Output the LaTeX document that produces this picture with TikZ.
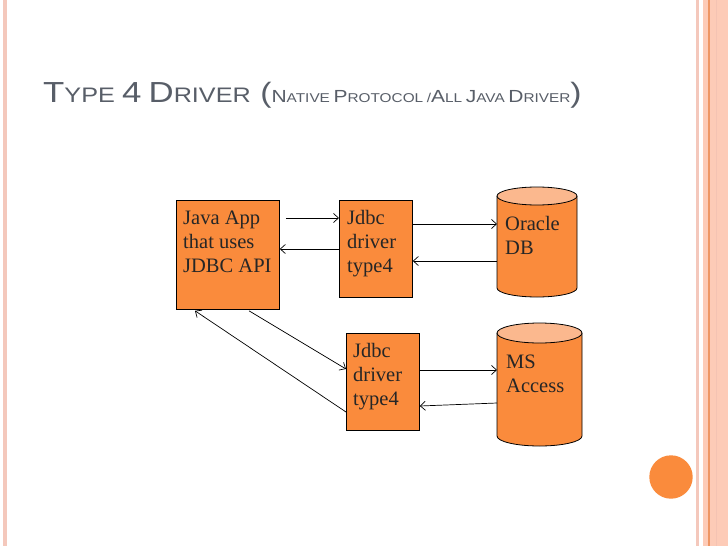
\documentclass[tikz,border=0pt]{standalone}
\usepackage{fontspec}
\setmainfont{Liberation Serif}
\newfontfamily\titlefont{Liberation Sans}
\usetikzlibrary{arrows.meta,calc}
\definecolor{boxorange}{RGB}{250,139,60}
\definecolor{lidorange}{RGB}{251,184,142}
\definecolor{peach}{RGB}{253,203,183}
\definecolor{peachline}{RGB}{244,200,188}
\definecolor{stripeline}{RGB}{238,150,100}
\definecolor{titlegrey}{RGB}{88,94,104}
\newcommand\tcBig[1]{{\fontsize{29}{29}\selectfont #1}}
\newcommand\tcSm[1]{{\fontsize{21}{21}\selectfont #1}}
\newcommand\tcIBig[1]{{\fontsize{17.5}{17.5}\selectfont #1}}
\newcommand\tcISm[1]{{\fontsize{12.8}{12.8}\selectfont #1}}
\newcommand\tcPar[1]{{\fontsize{28}{28}\selectfont #1}}
\begin{document}
\begin{tikzpicture}[x=1pt,y=-1pt,
  box/.style={draw=black, line width=0.8pt, fill=boxorange, inner sep=0pt, anchor=north west},
  txt/.style={font=\fontsize{20.5}{24}\selectfont, align=left, inner sep=0pt, anchor=base west, text=black!85},
  arr/.style={line width=0.7pt, -{Straight Barb[length=5pt,width=9pt]}},
  cyl/.style={draw=black, line width=0.8pt}
]
\useasboundingbox (0,0) rectangle (728,546);
\fill[white] (0,0) rectangle (728,546);
% left stripe
\fill[peachline] (3,0) rectangle (6.5,546);
% right stripes
\fill[peachline] (696,0) rectangle (699,546);
\fill[peach] (703,0) rectangle (728,546);
\fill[stripeline] (708.3,0) rectangle (709.8,546);
\fill[peachline!90!stripeline] (716,0) rectangle (717,546);
% orange circle
\fill[boxorange] (671,477) circle[radius=21.7];
% title
\node[anchor=base west, inner sep=0pt, text=titlegrey, font=\titlefont] (title) at (43,102)
 {\scalebox{1.2}[1]{\tcBig{T}\tcSm{YPE}\hspace{6pt}\tcBig{4}\hspace{6pt}\tcBig{D}\tcSm{RIVER}\hspace{8pt}\tcPar{(}\tcIBig{N}\tcISm{ATIVE}\hspace{3pt}\tcIBig{P}\tcISm{ROTOCOL}\hspace{3pt}\tcISm{/}\tcIBig{A}\tcISm{LL}\hspace{3pt}\tcIBig{J}\tcISm{AVA}\hspace{3pt}\tcIBig{D}\tcISm{RIVER}\tcPar{)}}};
% boxes
\node[box, minimum width=103pt, minimum height=109pt] (java) at (176,200) {};
\node[box, minimum width=73pt, minimum height=97pt] (jd1) at (339,200) {};
\node[box, minimum width=73pt, minimum height=97pt] (jd2) at (346,333) {};
\node[txt] (javat) at (183,272) {Java App\\that uses\\JDBC API};
\node[txt] (jd1t) at (347,272) {Jdbc\\driver\\type4};
\node[txt] (jd2t) at (353,405) {Jdbc\\driver\\type4};
% Oracle cylinder
\node[inner sep=0pt, minimum width=80pt, minimum height=110pt, anchor=north west] (oracle) at (497,187) {};
\fill[boxorange] (497,196) -- (497,288) arc[start angle=180, end angle=0, x radius=40, y radius=9] -- (577,196) -- cycle;
\draw[cyl] (497,196) -- (497,288) arc[start angle=180, end angle=0, x radius=40, y radius=9] -- (577,196);
\draw[cyl, fill=lidorange] (537,196) ellipse[x radius=40, y radius=9];
\node[txt] (oraclet) at (505,254) {Oracle\\DB};
% MS Access cylinder
\node[inner sep=0pt, minimum width=85pt, minimum height=123pt, anchor=north west] (msa) at (497,323) {};
\fill[boxorange] (497,333) -- (497,436) arc[start angle=180, end angle=0, x radius=42.5, y radius=10] -- (582,333) -- cycle;
\draw[cyl] (497,333) -- (497,436) arc[start angle=180, end angle=0, x radius=42.5, y radius=10] -- (582,333);
\draw[cyl, fill=lidorange] (539.5,333) ellipse[x radius=42.5, y radius=10];
\node[txt] (msat) at (506,392) {MS\\Access};
% connectors
\draw[arr] ($(java.north east)+(6,18)$) -- ($(jd1.north west)+(0,18)$);
\draw[arr] ($(jd1.north west)+(0,49)$) -- ($(java.north east)+(0,49)$);
\draw[arr] ($(jd1.north east)+(0,24)$) -- ($(oracle.north west)+(0,37)$);
\draw[arr] ($(oracle.north west)+(0,74)$) -- ($(jd1.north east)+(0,61)$);
\draw[arr] ($(java.south west)+(73,1)$) -- ($(jd2.north west)+(0,36)$);
\draw[arr] ($(jd2.north west)+(0,79)$) -- ($(java.south west)+(19,1)$);
\draw[arr] ($(jd2.north east)+(0,37)$) -- ($(msa.north west)+(0,47)$);
\draw[arr] ($(msa.north west)+(0,80)$) -- ($(jd2.north east)+(0,73)$);
\end{tikzpicture}
\end{document}
